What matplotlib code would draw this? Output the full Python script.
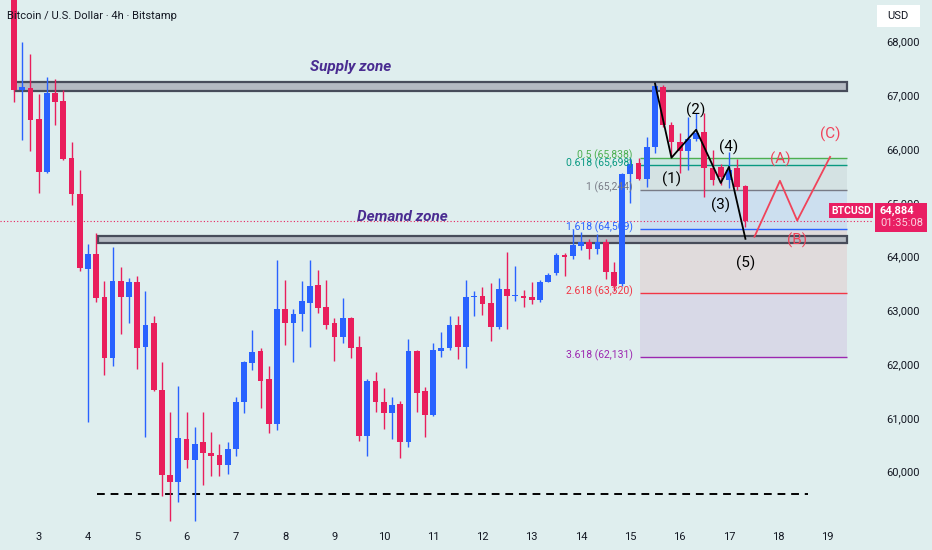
import matplotlib
matplotlib.use("Agg")
import matplotlib.pyplot as plt
from matplotlib.patches import Rectangle
from matplotlib.ticker import FuncFormatter

plt.rcParams['font.family'] = ['Roboto', 'DejaVu Sans']

# 4h candles, index 0 = day 2 12:00
opens = [69100, 67100, 67140, 66565, 65580, 67045, 66900, 65840, 65170, 63775,
         64055, 63255, 62120, 63550, 63255, 63530, 62325, 62755, 61525, 59930,
         59800, 60600, 60210, 60540, 60335, 60300, 60115, 60410, 61285, 62010,
         62250, 61715, 60875, 63015, 62770, 62940, 63145, 63480, 63070, 62755,
         62495, 62865, 62325, 60655, 61675, 61285, 61080, 61265, 60540, 62235,
         61490, 61045, 62250, 62290, 62735, 62325, 63255, 63275, 63145, 62680,
         63405, 63265, 63260, 63255, 63200, 63535, 63700, 64035, 64015, 64200,
         64280, 64150, 64280, 63720, 63495, 65540, 65745, 65450, 66045, 67155,
         66450, 66135, 65970, 66195, 66320, 65650, 65670, 65430, 65650, 65320]
highs = [69300, 67995, 67770, 67020, 67345, 67310, 67100, 66135, 65615, 64240,
         64445, 63550, 64185, 63810, 63610, 63645, 63350, 62900, 62045, 61100,
         61600, 61100, 60820, 61100, 60730, 60505, 60540, 61380, 62050, 62640,
         62290, 61955, 63945, 63570, 63015, 63550, 63945, 63755, 63570, 62865,
         63220, 62880, 62530, 61720, 61860, 61545, 61380, 61305, 62475, 62260,
         61580, 62400, 62605, 62900, 62900, 63570, 63350, 63440, 63515, 63610,
         64090, 63830, 63385, 63535, 63560, 63700, 64075, 64060, 64520, 64450,
         64320, 64420, 64320, 63905, 65560, 65840, 65840, 66230, 67230, 67200,
         66510, 66300, 66600, 66675, 66675, 65990, 65725, 65950, 65820, 65330]
lows = [66880, 66170, 65970, 65190, 65560, 66450, 65800, 64965, 63740, 60915,
        63160, 61805, 61970, 62550, 62770, 61915, 60650, 61500, 59540, 59070,
        59425, 60060, 59070, 59740, 59910, 59910, 59945, 60280, 61080, 61880,
        61175, 60725, 60765, 62345, 62030, 62620, 62325, 62955, 62660, 62065,
        62400, 62120, 60560, 60280, 61100, 60785, 60600, 60245, 60465, 61100,
        60635, 61030, 62140, 62270, 62100, 61935, 62900, 62920, 62420, 62660,
        62660, 63180, 63070, 63125, 63160, 63520, 63650, 63630, 63960, 64130,
        63960, 64055, 63590, 63350, 63460, 65000, 65430, 65300, 65930, 66415,
        65850, 65560, 65615, 66150, 65115, 65335, 65340, 65280, 65245, 64555]
closes = [67100, 67150, 66545, 65580, 67045, 66880, 65820, 65170, 63795, 64055,
          63235, 62120, 63550, 63255, 63530, 62305, 62735, 61510, 59930, 59800,
          60615, 60210, 60520, 60335, 60280, 60115, 60410, 61285, 62030, 62230,
          61675, 60875, 63015, 62755, 62940, 63165, 63460, 63050, 62735, 62495,
          62865, 62305, 60655, 61675, 61285, 61080, 61230, 60540, 62235, 61470,
          61045, 62270, 62305, 62735, 62325, 63255, 63275, 63125, 62680, 63405,
          63275, 63290, 63235, 63200, 63535, 63665, 64035, 64000, 64220, 64280,
          64150, 64280, 63720, 63460, 65540, 65725, 65450, 66045, 67175, 66450,
          66135, 65970, 66195, 66300, 65650, 65430, 65485, 65615, 65300, 64670]

days = list(range(3, 20))
price_ticks = [60000, 61000, 62000, 63000, 64000, 65000, 66000, 67000, 68000]

supply_zone = (67080, 67240)
demand_zone = (64260, 64390)
support_level = 59580

fib_ratios = [0.5, 0.618, 1, 1.618, 2.618, 3.618]
fib_prices = [65838, 65698, 65244, 64509, 63320, 62131]
fib_colors = ['#4caf50', '#089981', '#787b86', '#2962ff', '#f23645', '#9c27b0']

wave_x = [78, 80, 83, 86, 87, 89]
wave_y = [67220, 65840, 66360, 65370, 65670, 64330]
wave_labels = ['', '(1)', '(2)', '(3)', '(4)', '(5)']
wave_dy = [0, -22, 19, -22, 19, -25]

abc_x = [90.1, 93.2, 95.3, 99.3]
abc_y = [64370, 65410, 64670, 65855]
abc_labels = ['', '(A)', '(B)', '(C)']
abc_dy = [0, 21, -20, 23]

last_price_text = '64,884'
countdown = '01:35:08'

BG = '#dfeeee'
RED = '#e91e5c'
BLUE = '#2962ff'
TXT = '#131722'

W, H = 932, 550
fig = plt.figure(figsize=(W / 100, H / 100), dpi=100)
fig.patch.set_facecolor(BG)
ax = fig.add_axes([0, 28 / H, 872 / W, 522 / H])
ax.set_facecolor(BG)
ax.set_xlim(-1.7, 104.4)
ax.set_ylim(59060, 68775)

# zones
for lo, hi, x0 in [(supply_zone[0], supply_zone[1], 0.1), (demand_zone[0], demand_zone[1], 10.2)]:
    ax.add_patch(Rectangle((x0, lo), 101.3 - x0, hi - lo, facecolor='#b4bac2',
                           edgecolor='#474c5a', lw=1.6, zorder=2))
ax.text(41, 67530, 'Supply zone', color='#4a2c91', style='italic', fontweight='semibold',
        fontsize=11, ha='center', va='center', zorder=6)
ax.text(47.3, 64740, 'Demand zone', color='#4a2c91', style='italic', fontweight='semibold',
        fontsize=11, ha='center', va='center', zorder=6)

# fib extension
fx0, fx1 = 76.2, 101.3
for k in range(len(fib_prices) - 1):
    ax.fill_between([fx0, fx1], fib_prices[k + 1], fib_prices[k], color=fib_colors[k + 1],
                    alpha=0.1, lw=0, zorder=1)
for r, p, c in zip(fib_ratios, fib_prices, fib_colors):
    ax.hlines(p, fx0, fx1, color=c, lw=1.0, zorder=2)
    ax.text(fx0 - 0.9, p + 40, f'{r:g} ({p:,})', color=c, fontsize=7.5,
            ha='right', va='center', zorder=6)

# support dashed line
ax.hlines(support_level, 10.1, 96.6, color='black', lw=1.4, linestyles=(0, (4, 3)), zorder=2)

# candles
for i, (o, h, l, c) in enumerate(zip(opens, highs, lows, closes)):
    col = BLUE if c >= o else RED
    ax.vlines(i, l, h, color=col, lw=1.0, zorder=3)
    ax.bar(i, max(abs(c - o), 18), bottom=min(o, c), width=0.7, color=col, lw=0, zorder=4)

# last price line
ax.axhline(closes[-1], color=RED, lw=0.8, ls=(0, (1, 2)), zorder=2)

# elliott waves
ax.plot(wave_x, wave_y, color='black', lw=1.3, zorder=5)
for x, y, t, d in zip(wave_x, wave_y, wave_labels, wave_dy):
    if t:
        ax.annotate(t, (x, y), xytext=(0, d * 0.72), textcoords='offset points',
                    ha='center', va='center', fontsize=11, color='black', zorder=6)
ax.plot(abc_x, abc_y, color='#f0435a', lw=1.3, zorder=5)
for x, y, t, d in zip(abc_x, abc_y, abc_labels, abc_dy):
    if t:
        ax.annotate(t, (x, y), xytext=(0, d * 0.72), textcoords='offset points',
                    ha='center', va='center', fontsize=11, color='#f0435a', zorder=6)

# axes
for s in ax.spines.values():
    s.set_visible(False)
ax.yaxis.tick_right()
ax.set_yticks(price_ticks)
ax.yaxis.set_major_formatter(FuncFormatter(lambda v, p: f'{v:,.0f}'))
ax.set_xticks([3 + 6 * (d - 3) for d in days])
ax.set_xticklabels([str(d) for d in days])
ax.tick_params(axis='both', length=0, labelsize=8, labelcolor=TXT)
ax.tick_params(axis='y', pad=10)
ax.tick_params(axis='x', pad=7)


def fr(x0, y0, x1, y1, fc):
    fig.add_artist(Rectangle((x0 / W, 1 - y1 / H), (x1 - x0) / W, (y1 - y0) / H,
                             transform=fig.transFigure, facecolor=fc, lw=0, zorder=10))


# price labels
fr(829, 203, 873, 218, '#e91e63')
fig.text(851 / W, 1 - 210.5 / H, 'BTCUSD', color='white', fontsize=7.5, fontweight='bold',
         ha='center', va='center', zorder=11)
fr(875, 203, 927, 232, '#e91e63')
fig.text(880 / W, 1 - 210.5 / H, last_price_text, color='white', fontsize=8, fontweight='bold',
         ha='left', va='center', zorder=11)
fig.text(880 / W, 1 - 223.5 / H, countdown, color='#fbd3df', fontsize=8,
         ha='left', va='center', zorder=11)

fr(877, 5, 920, 27, 'white')
fig.text(898 / W, 1 - 16 / H, 'USD', color=TXT, fontsize=8, ha='center', va='center', zorder=11)

fig.text(7 / W, 1 - 16 / H, 'Bitcoin / U.S. Dollar · 4h · Bitstamp', color=TXT,
         fontsize=8, ha='left', va='center', zorder=11)

fig.savefig('out.png', dpi=100, facecolor=BG)
